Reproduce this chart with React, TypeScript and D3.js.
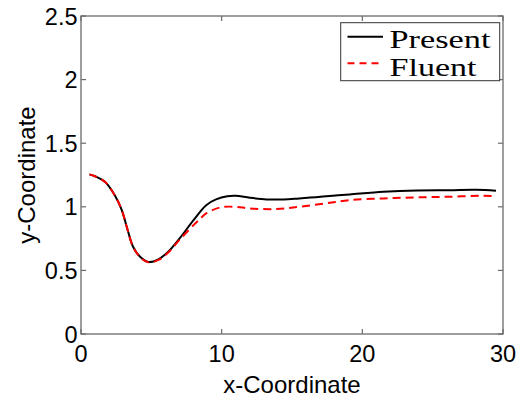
import React from 'react';
import * as d3 from 'd3';

// values
const presentX = [0.6, 1.0, 1.7, 2.4, 2.9, 3.25, 3.7, 4.2, 4.8, 5.5, 6.2, 7.0, 8.0, 8.9, 9.6, 10.4, 11.0, 12.0, 13.2, 14.4, 15.5, 16.7, 17.9, 19.1, 21.5, 23.9, 26.2, 28.1, 29.5];
const presentY = [1.255, 1.24, 1.196, 1.09, 0.974, 0.843, 0.686, 0.607, 0.566, 0.587, 0.647, 0.75, 0.895, 1.013, 1.058, 1.083, 1.087, 1.071, 1.058, 1.058, 1.066, 1.076, 1.087, 1.097, 1.118, 1.129, 1.131, 1.134, 1.126];
const fluentX = [0.6, 1.0, 1.7, 2.4, 2.9, 3.25, 3.7, 4.2, 4.8, 5.5, 6.2, 7.0, 8.0, 8.5, 8.9, 9.9, 11.0, 12.0, 13.9, 15.5, 17.4, 19.1, 21.5, 23.9, 26.2, 28.6, 29.5];
const fluentY = [1.255, 1.24, 1.196, 1.09, 0.974, 0.843, 0.686, 0.605, 0.563, 0.582, 0.64, 0.74, 0.856, 0.909, 0.948, 0.995, 1.0, 0.987, 0.982, 1.0, 1.027, 1.053, 1.066, 1.074, 1.079, 1.087, 1.084];
const xTicks = [0, 10, 20, 30];
const yTicks = [0, 0.5, 1, 1.5, 2, 2.5];
const seriesNames = ['Present', 'Fluent'];

const W = 517, H = 398;
const m = { left: 81, right: 503, top: 16, bottom: 334 };
const sans = 'Liberation Sans, Arial, Helvetica, sans-serif';
const serif = 'Liberation Serif, Times New Roman, serif';
const axisColor = '#6a6a6a';

export default function App() {
  const x = d3.scaleLinear().domain([0, 30]).range([m.left, m.right]);
  const y = d3.scaleLinear().domain([0, 2.5]).range([m.bottom, m.top]);
  const line = d3.line<[number, number]>().x(d => x(d[0])).y(d => y(d[1])).curve(d3.curveCatmullRom.alpha(0.5));
  const presentPts = presentX.map((v, i) => [v, presentY[i]] as [number, number]);
  const fluentPts = fluentX.map((v, i) => [v, fluentY[i]] as [number, number]);
  const tl = 5;

  return (
    <svg width={W} height={H} style={{ position: 'fixed', left: 0, top: 0, background: '#fff' }}>
      <rect x={0} y={0} width={W} height={H} fill="#fff" />
      {/* curves */}
      <path d={line(presentPts) || ''} fill="none" stroke="#000" strokeWidth={2} />
      <path d={line(fluentPts) || ''} fill="none" stroke="#ff0000" strokeWidth={2} strokeDasharray="8,5" />

      {/* box */}
      <rect x={m.left} y={m.top} width={m.right - m.left} height={m.bottom - m.top} fill="none" stroke={axisColor} strokeWidth={1.3} />
      {xTicks.map(t => (
        <g key={'x' + t}>
          <line x1={x(t)} x2={x(t)} y1={m.bottom} y2={m.bottom - tl} stroke={axisColor} strokeWidth={1.2} />
          <line x1={x(t)} x2={x(t)} y1={m.top} y2={m.top + tl} stroke={axisColor} strokeWidth={1.2} />
          <text x={x(t)} y={361.5} textAnchor="middle" fontFamily={sans} fontSize={23.5} fill="#000">{t}</text>
        </g>
      ))}
      {yTicks.map(t => (
        <g key={'y' + t}>
          <line x1={m.left} x2={m.left + tl} y1={y(t)} y2={y(t)} stroke={axisColor} strokeWidth={1.2} />
          <line x1={m.right} x2={m.right - tl} y1={y(t)} y2={y(t)} stroke={axisColor} strokeWidth={1.2} />
          <text x={77.5} y={y(t) + 8.5} textAnchor="end" fontFamily={sans} fontSize={23.5} fill="#000">{t}</text>
        </g>
      ))}
      <text x={(m.left + m.right) / 2} y={392.5} textAnchor="middle" fontFamily={sans} fontSize={24} fill="#000">x-Coordinate</text>
      <text transform={`translate(34.5,${(m.top + m.bottom) / 2}) rotate(-90)`} textAnchor="middle" fontFamily={sans} fontSize={24} fill="#000">y-Coordinate</text>

      {/* legend */}
      <rect x={340.7} y={22.7} width={159} height={58} fill="#fff" stroke="#333" strokeWidth={1} />
      <line x1={347.5} x2={383} y1={36.7} y2={36.7} stroke="#000" strokeWidth={2} />
      <line x1={347.5} x2={383} y1={63.3} y2={63.3} stroke="#ff0000" strokeWidth={2} strokeDasharray="7,5" />
      <text x={389.5} y={48.3} fontFamily={serif} fontSize={24.5} textLength={101} lengthAdjust="spacingAndGlyphs" fill="#000">{seriesNames[0]}</text>
      <text x={389.5} y={75.5} fontFamily={serif} fontSize={24.5} textLength={87} lengthAdjust="spacingAndGlyphs" fill="#000">{seriesNames[1]}</text>
    </svg>
  );
}
